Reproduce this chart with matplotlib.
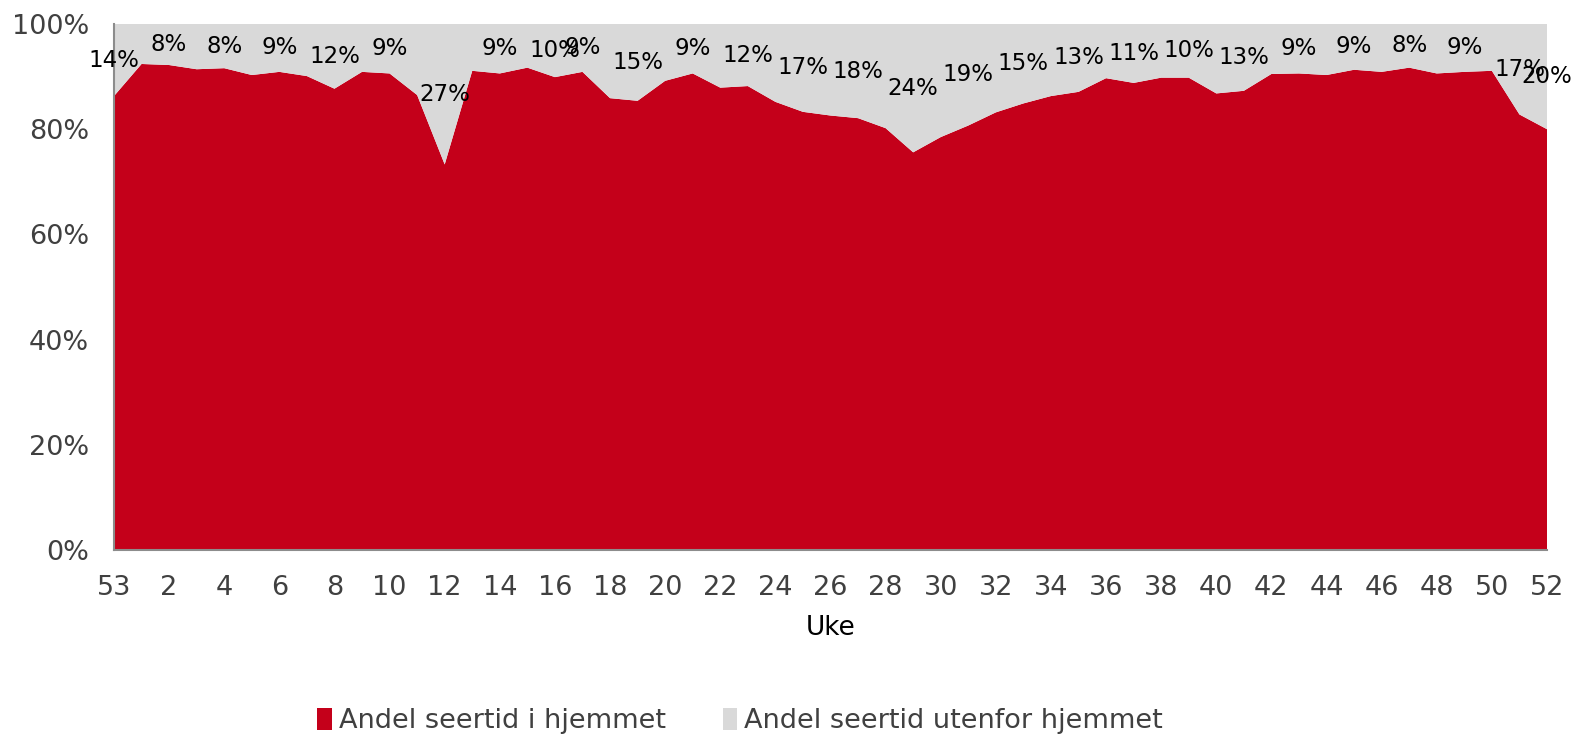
import numpy as np
import matplotlib.pyplot as plt

weeks = [53] + list(range(1, 53))
hjemme = [86.3, 92.4, 92.2, 91.4, 91.6, 90.3, 90.9, 90.1, 87.7, 90.9,
          90.6, 86.5, 73.3, 91.1, 90.6, 91.7, 89.9, 90.9, 85.9, 85.4,
          89.2, 90.6, 87.9, 88.2, 85.2, 83.3, 82.6, 82.1, 80.2, 75.6,
          78.5, 80.7, 83.2, 84.9, 86.3, 87.1, 89.7, 88.8, 89.8, 89.8,
          86.8, 87.3, 90.5, 90.6, 90.3, 91.3, 90.9, 91.7, 90.6, 90.9,
          91.1, 82.8, 80.0]
utenfor = [100 - v for v in hjemme]
label_idx = list(range(0, 17, 2)) + list(range(17, 52, 2)) + [52]

red = '#C4001A'
grey = '#D9D9D9'

fig = plt.figure(figsize=(15.74, 7.36), dpi=100)
ax = fig.add_axes([114 / 1574, 1 - 550 / 736, (1547 - 114) / 1574, 526 / 736])

x = np.arange(len(weeks))
ax.stackplot(x, np.array(hjemme) / 100, np.array(utenfor) / 100,
             colors=[red, grey], labels=['Andel seertid i hjemmet', 'Andel seertid utenfor hjemmet'])

for i in label_idx:
    ax.text(x[i], (hjemme[i] + 100) / 200, f'{round(utenfor[i])}%',
            ha='center', va='center', fontsize=16.5, color='black', clip_on=False)

ax.set_xlim(0, len(weeks) - 1)
ax.set_ylim(0, 1)
ax.set_xticks(x[::2])
ax.set_xticklabels([str(w) for w in weeks[::2]])
ax.set_yticks(np.arange(0, 1.01, 0.2))
ax.set_yticklabels([f'{int(v)}%' for v in np.arange(0, 101, 20)])
ax.tick_params(axis='both', length=0, labelsize=19.5, labelcolor='#404040')
ax.tick_params(axis='x', pad=18)
ax.tick_params(axis='y', pad=18)
ax.set_xlabel('Uke', fontsize=19, labelpad=10)

for s in ['top', 'right']:
    ax.spines[s].set_visible(False)
for s in ['left', 'bottom']:
    ax.spines[s].set_color('#8C8C8C')
    ax.spines[s].set_linewidth(1.5)

leg = fig.legend(loc='center', bbox_to_anchor=(740 / 1574, 1 - 721 / 736), ncol=2,
                 frameon=False, fontsize=19.5, handlelength=0.55, handleheight=0.9,
                 handletextpad=0.26, columnspacing=2.1)
for t in leg.get_texts():
    t.set_color('#404040')

fig.savefig('out.png', dpi=100)
